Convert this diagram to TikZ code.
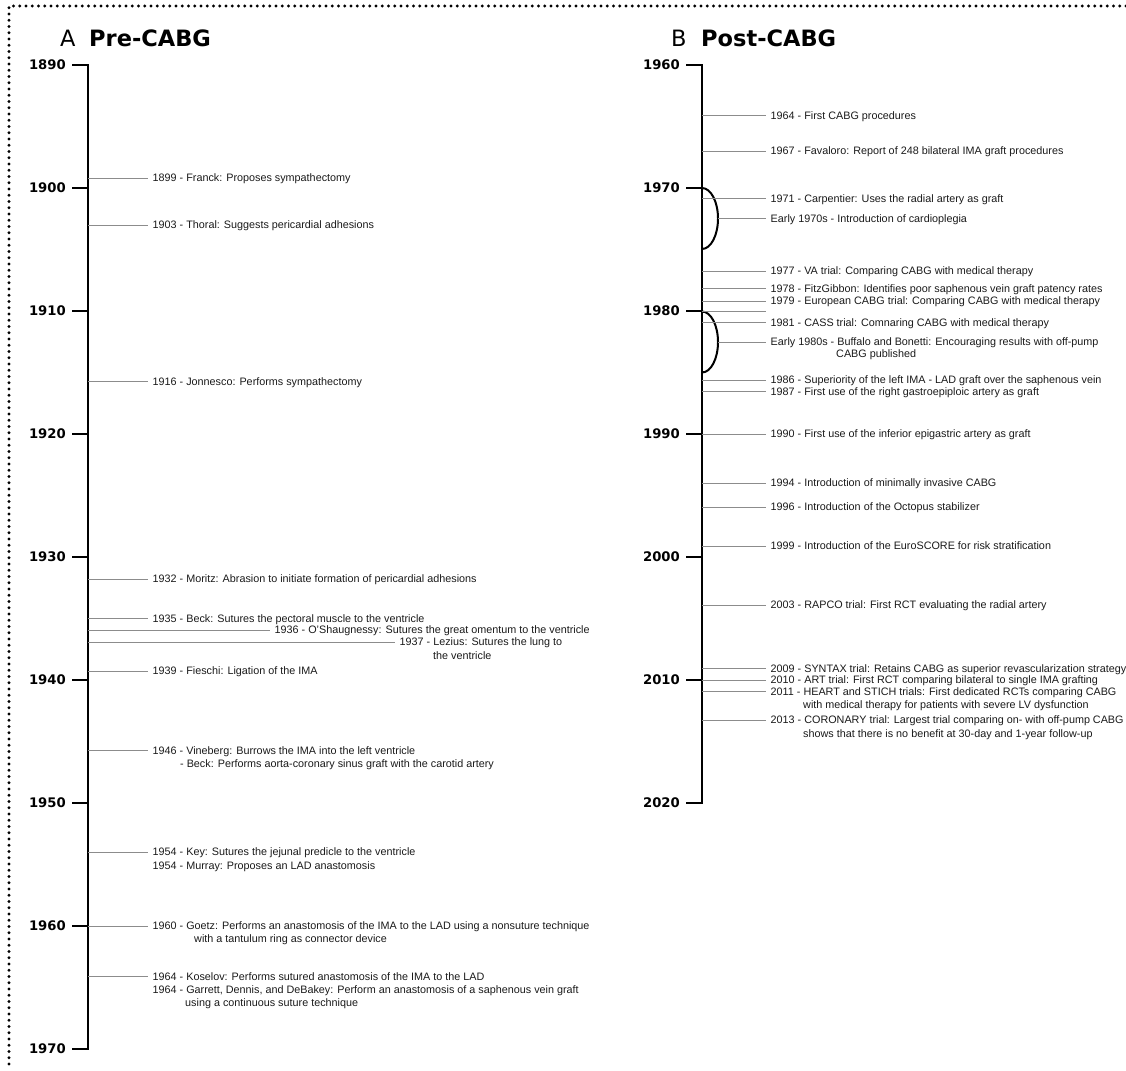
\documentclass[tikz,border=0pt]{standalone}
\usepackage{fontspec}
\setmainfont{Liberation Sans}
\newfontfamily\hdfont{DejaVu Sans}
\definecolor{leadgray}{HTML}{8C8C8C}
\definecolor{evtext}{HTML}{1A1A1A}
\tikzset{
  ev/.style={anchor=base west, inner xsep=4.5pt, inner ysep=0pt, text=evtext,
             font=\fontsize{10.8}{13}\selectfont},
  evc/.style={anchor=base west, inner sep=0pt, text=evtext,
             font=\fontsize{10.8}{13}\selectfont},
  lead/.style={draw=leadgray, line width=1pt},
  axisline/.style={line width=2.5pt, line join=miter, line cap=butt},
  tickline/.style={line width=2pt},
  yearlbl/.style={anchor=east, inner sep=0pt, font=\hdfont\bfseries\fontsize{13.2}{14}\selectfont},
  brace/.style={line width=2pt},
  border/.style={line width=3.3pt, line cap=round, dash pattern=on 0pt off 6.25pt, black}
}
\newcommand\evt[5]{%
  \coordinate (#1a) at (#2,#3);
  \node[ev] (#1) at ({#4},{#3+3.9}) {#5};
  \draw[lead] (#1a) -- (#1a -| #1.west);
}
\newcommand\evx[4]{%
  \node[evc] (#1) at ({#2},{#3+3.9}) {#4};
}
\begin{document}
\begin{tikzpicture}[x=1pt,y=-1pt]
\useasboundingbox (0,0) rectangle (1126,1070);
% dotted border
\coordinate (bTL) at (9,6);
\coordinate (bTR) at (1126,6);
\coordinate (bBL) at (9,1070);
\draw[border] (bTR) -- (bTL) -- (bBL);

% ---------- Panel A ----------
\node[anchor=base west, inner sep=0pt, font=\hdfont\fontsize{22.5}{24}\selectfont] (tA) at (60,46.7) {A};
\node[anchor=base west, inner sep=0pt, font=\hdfont\bfseries\fontsize{22.5}{24}\selectfont] (tPre) at (89,46.7) {Pre-CABG};

\coordinate (L0) at (88,65);
\coordinate (L8) at (88,1049);
\draw[axisline] (72,65) -- (L0) -- (L8) -- (72,1049);
\foreach \i/\yr in {0/1890,1/1900,2/1910,3/1920,4/1930,5/1940,6/1950,7/1960,8/1970}{
  \node[yearlbl] (yl\yr) at (66,{65+123*\i}) {\yr};
}
\foreach \i in {1,...,7}{
  \draw[tickline] (72,{65+123*\i}) -- (88,{65+123*\i});
}

\evt{e1899}{88}{178}{148}{1899 - Franck: Proposes sympathectomy}
\evt{e1903}{88}{225}{148}{1903 - Thoral: Suggests pericardial adhesions}
\evt{e1916}{88}{381.7}{148}{1916 - Jonnesco: Performs sympathectomy}
\evt{e1932}{88}{579}{148}{1932 - Moritz: Abrasion to initiate formation of pericardial adhesions}
\evt{e1935}{88}{618.7}{148}{1935 - Beck: Sutures the pectoral muscle to the ventricle}
\evt{e1936}{88}{630}{270}{1936 - O’Shaugnessy: Sutures the great omentum to the ventricle}
\evt{e1937}{88}{642}{395}{1937 - Lezius: Sutures the lung to}
\evx{e1937b}{433}{655.5}{the ventricle}
\evt{e1939}{88}{671}{148}{1939 - Fieschi: Ligation of the IMA}
\evt{e1946}{88}{750.7}{148}{1946 - Vineberg: Burrows the IMA into the left ventricle}
\evx{e1946b}{180}{764}{- Beck: Performs aorta-coronary sinus graft with the carotid artery}
\evt{e1954}{88}{852}{148}{1954 - Key: Sutures the jejunal predicle to the ventricle}
\evx{e1954b}{152.5}{865.3}{1954 - Murray: Proposes an LAD anastomosis}
\evt{e1960}{88}{926}{148}{1960 - Goetz: Performs an anastomosis of the IMA to the LAD using a nonsuture technique}
\evx{e1960b}{194}{938.5}{with a tantulum ring as connector device}
\evt{e1964}{88}{976.7}{148}{1964 - Koselov: Performs sutured anastomosis of the IMA to the LAD}
\evx{e1964b}{152.5}{989.5}{1964 - Garrett, Dennis, and DeBakey: Perform an anastomosis of a saphenous vein graft}
\evx{e1964c}{185}{1002.7}{using a continuous suture technique}

% ---------- Panel B ----------
\node[anchor=base west, inner sep=0pt, font=\hdfont\fontsize{22.5}{24}\selectfont] (tB) at (671,46.7) {B};
\node[anchor=base west, inner sep=0pt, font=\hdfont\bfseries\fontsize{22.5}{24}\selectfont] (tPost) at (701,46.7) {Post-CABG};

\coordinate (R0) at (702,65);
\coordinate (R6) at (702,803);
\draw[axisline] (686,65) -- (R0) -- (R6) -- (686,803);
\foreach \i/\yr in {0/1960,1/1970,2/1980,3/1990,4/2000,5/2010,6/2020}{
  \node[yearlbl] (yr\yr) at (680,{65+123*\i}) {\yr};
}
\foreach \i in {1,...,5}{
  \draw[tickline] (686,{65+123*\i}) -- (702,{65+123*\i});
}
% brackets
\coordinate (br70s) at (702,188);
\coordinate (br80s) at (702,311.5);
\draw[brace] (br70s) arc[start angle=-90, end angle=90, x radius=16, y radius=30.5];
\draw[brace] (br80s) arc[start angle=-90, end angle=90, x radius=16, y radius=30.5];

\evt{f1964}{702}{116}{766}{1964 - First CABG procedures}
\evt{f1967}{702}{151}{766}{1967 - Favaloro: Report of 248 bilateral IMA graft procedures}
\evt{f1971}{702}{198.3}{766}{1971 - Carpentier: Uses the radial artery as graft}
\evt{f1970s}{718}{218.5}{766}{Early 1970s - Introduction of cardioplegia}
\evt{f1977}{702}{271}{766}{1977 - VA trial: Comparing CABG with medical therapy}
\evt{f1978}{702}{288.7}{766}{1978 - FitzGibbon: Identifies poor saphenous vein graft patency rates}
\evt{f1979}{702}{301}{766}{1979 - European CABG trial: Comparing CABG with medical therapy}
\coordinate (f1980a) at (702,311.7);
\coordinate (f1980b) at (766,311.7);
\draw[lead] (f1980a) -- (f1980b);
\evt{f1981}{702}{322.3}{766}{1981 - CASS trial: Comnaring CABG with medical therapy}
\evt{f1980s}{718}{342}{766}{Early 1980s - Buffalo and Bonetti: Encouraging results with off-pump}
\evx{f1980sb}{836}{353.8}{CABG published}
\evt{f1986}{702}{380}{766}{1986 - Superiority of the left IMA - LAD graft over the saphenous vein}
\evt{f1987}{702}{391.7}{766}{1987 - First use of the right gastroepiploic artery as graft}
\evt{f1990}{702}{434}{766}{1990 - First use of the inferior epigastric artery as graft}
\evt{f1994}{702}{483}{766}{1994 - Introduction of minimally invasive CABG}
\evt{f1996}{702}{507}{766}{1996 - Introduction of the Octopus stabilizer}
\evt{f1999}{702}{546}{766}{1999 - Introduction of the EuroSCORE for risk stratification}
\evt{f2003}{702}{605}{766}{2003 - RAPCO trial: First RCT evaluating the radial artery}
\evt{f2009}{702}{668.3}{766}{2009 - SYNTAX trial: Retains CABG as superior revascularization strategy}
\evt{f2010}{702}{680}{766}{2010 - ART trial: First RCT comparing bilateral to single IMA grafting}
\evt{f2011}{702}{691.5}{766}{2011 - HEART and STICH trials: First dedicated RCTs comparing CABG}
\evx{f2011b}{803}{705}{with medical therapy for patients with severe LV dysfunction}
\evt{f2013}{702}{720}{766}{2013 - CORONARY trial: Largest trial comparing on- with off-pump CABG}
\evx{f2013b}{803}{733.3}{shows that there is no benefit at 30-day and 1-year follow-up}
\end{tikzpicture}
\end{document}
